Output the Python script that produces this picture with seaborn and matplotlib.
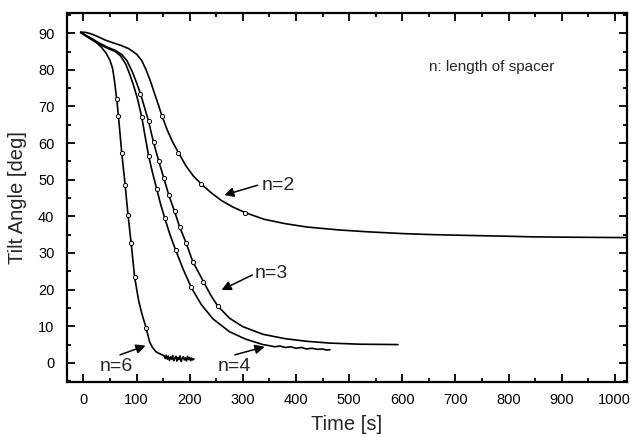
import numpy as np
import pandas as pd
import matplotlib
matplotlib.use("Agg")
import matplotlib.pyplot as plt
import seaborn as sns
from matplotlib.ticker import MultipleLocator

# ---------------- data ----------------
n2_t = [-5, 5, 15, 25, 40, 55, 70, 85, 100, 110, 118, 126, 134, 141, 148, 158, 168, 179, 193,
        207, 222, 240, 260, 282, 305, 340, 380, 420, 480, 533, 600, 660, 722, 790, 847, 920, 1022]
n2_y = [90.3, 90.2, 89.8, 89.2, 88.2, 87.4, 86.7, 85.8, 84.3, 82.5, 80.0, 77.0, 73.5, 70.5, 67.4,
        63.5, 60.3, 57.4, 53.8, 51.0, 48.8, 46.5, 44.3, 42.5, 41.0, 39.2, 38.0, 37.1, 36.3, 35.8,
        35.3, 35.0, 34.8, 34.6, 34.4, 34.3, 34.2]
n2_mt = [148, 179, 222, 305]
n2_my = [67.4, 57.4, 48.8, 41.0]

n3_t = [-5, 5, 15, 30, 45, 60, 72, 82, 92, 100, 107.5, 115, 122.6, 132, 142, 151.5, 161, 171.5,
        181, 193.7, 206, 226, 240, 253, 275, 300, 338, 380, 420, 464, 520, 592]
n3_y = [90.2, 89.4, 88.6, 87.3, 86.2, 85.3, 84.2, 82.5, 79.5, 76.5, 73.5, 69.8, 66.0, 60.2, 55.0,
        50.4, 45.7, 41.4, 37.2, 32.6, 27.6, 22.2, 18.4, 15.5, 12.2, 9.9, 7.8, 6.6, 5.9, 5.4, 5.1, 5.0]
n3_mt = [107.5, 122.6, 132, 142, 151.5, 161, 171.5, 181, 193.7, 206, 226, 253]
n3_my = [73.5, 66.0, 60.2, 55.0, 50.4, 45.7, 41.4, 37.2, 32.6, 27.6, 22.2, 15.5]

n4_t = [-5, 5, 15, 30, 45, 60, 70, 80, 88, 95, 102, 110, 116, 123, 130, 138, 145, 153, 163,
        173.6, 188, 203, 222, 244, 275, 305, 338, 350, 360, 370, 380, 390, 400, 410, 420, 430,
        440, 450, 458, 464]
n4_y = [90.2, 89.2, 88.3, 87.0, 85.9, 85.0, 83.8, 81.5, 78.5, 75.5, 72.0, 67.0, 62.0, 56.4, 52.0,
        47.5, 43.5, 39.6, 35.0, 30.8, 25.5, 20.6, 15.9, 12.0, 8.5, 6.5, 5.0, 4.7, 4.4, 4.6, 4.2,
        4.4, 4.0, 4.2, 3.8, 4.0, 3.7, 3.8, 3.5, 3.6]
n4_mt = [110, 123, 138, 153, 173.6, 203]
n4_my = [67.0, 56.4, 47.5, 39.6, 30.8, 20.6]

n6_t = [-5, 5, 15, 25, 35, 43, 50, 55, 59, 62.8, 66, 72.3, 78.6, 84, 90, 96.5, 104, 110, 113,
        118, 124.5, 130, 137, 145, 150, 152, 154, 156, 158, 160, 162, 164, 166, 168, 170, 172,
        174, 176, 178, 180, 182, 184, 186, 188, 190, 192, 194, 196, 198, 200, 202, 204, 206, 208]
n6_y = [90.2, 89.3, 88.4, 87.4, 86.0, 84.5, 82.6, 80.4, 76.5, 71.9, 67.4, 57.2, 48.6, 40.4, 32.6,
        23.4, 17.0, 13.5, 12.0, 9.6, 5.8, 4.2, 3.0, 2.4, 2.1, 1.9, 1.2, 2.1, 1.0, 1.8, 0.7, 1.6,
        1.0, 2.0, 0.6, 1.3, 1.8, 0.5, 1.5, 0.9, 1.9, 0.4, 1.2, 1.7, 0.8, 1.4, 0.5, 1.8, 0.9, 1.5,
        0.6, 1.3, 0.8, 1.1]
n6_mt = [62.8, 66, 72.3, 78.6, 84, 90, 96.5, 118]
n6_my = [71.9, 67.4, 57.2, 48.6, 40.4, 32.6, 23.4, 9.6]

labels = ["n=2", "n=3", "n=4", "n=6"]
label_pos = [(336, 48.5), (323, 24.3), (253, -0.9), (30, -0.9)]
arrow_tail = [(328, 48.5), (318, 24.0), (285, 2.2), (69, 2.2)]
arrow_tip = [(265, 45.8), (260, 19.9), (341, 4.4), (117, 4.7)]

x_ticks = list(range(0, 1001, 100))
y_ticks = list(range(0, 91, 10))

# ---------------- figure ----------------
sns.set_style("ticks")
plt.rcParams['font.family'] = ['Liberation Sans', 'DejaVu Sans']

fig = plt.figure(figsize=(6.31, 4.37), dpi=100)
ax = fig.add_axes([0.106, 0.126, 0.8877, 0.845])

curves = [(n2_t, n2_y, n2_mt, n2_my), (n3_t, n3_y, n3_mt, n3_my),
          (n4_t, n4_y, n4_mt, n4_my), (n6_t, n6_y, n6_mt, n6_my)]
for t, y, mt, my in curves:
    df = pd.DataFrame({"t": t, "y": y})
    sns.lineplot(data=df, x="t", y="y", ax=ax, color="black", linewidth=1.2,
                 sort=False, estimator=None)
    dm = pd.DataFrame({"t": mt, "y": my})
    sns.scatterplot(data=dm, x="t", y="y", ax=ax, marker="o", s=9,
                    facecolor="white", edgecolor="black", linewidth=0.7, zorder=5)

for lab, pos, tail, tip in zip(labels, label_pos, arrow_tail, arrow_tip):
    ax.text(pos[0], pos[1], lab, fontsize=14, ha="left", va="center")
    ax.annotate("", xy=tip, xytext=tail,
                arrowprops=dict(arrowstyle="-|>", color="black", lw=1.1,
                                mutation_scale=14, shrinkA=0, shrinkB=0))

ax.text(768, 80.7, "n: length of spacer", fontsize=11, ha="center", va="center")

ax.set_xlim(-31, 1023)
ax.set_ylim(-5.2, 95.6)
ax.set_xticks(x_ticks)
ax.set_yticks(y_ticks)
ax.xaxis.set_minor_locator(MultipleLocator(50))
ax.yaxis.set_minor_locator(MultipleLocator(5))
ax.tick_params(which="both", direction="in", top=True, right=True, width=1.3, colors="black")
ax.tick_params(which="major", length=6)
ax.tick_params(which="minor", length=3)
ax.tick_params(axis="x", which="major", labelsize=10.5, pad=8)
ax.tick_params(axis="y", which="major", labelsize=10.5, pad=9)
for s in ax.spines.values():
    s.set_visible(True)
    s.set_linewidth(1.6)
    s.set_color("black")

ax.set_xlabel("Time [s]", fontsize=14.5, labelpad=6)
ax.set_ylabel("Tilt Angle [deg]", fontsize=14.5, labelpad=8)

fig.savefig("out.png", dpi=100)
